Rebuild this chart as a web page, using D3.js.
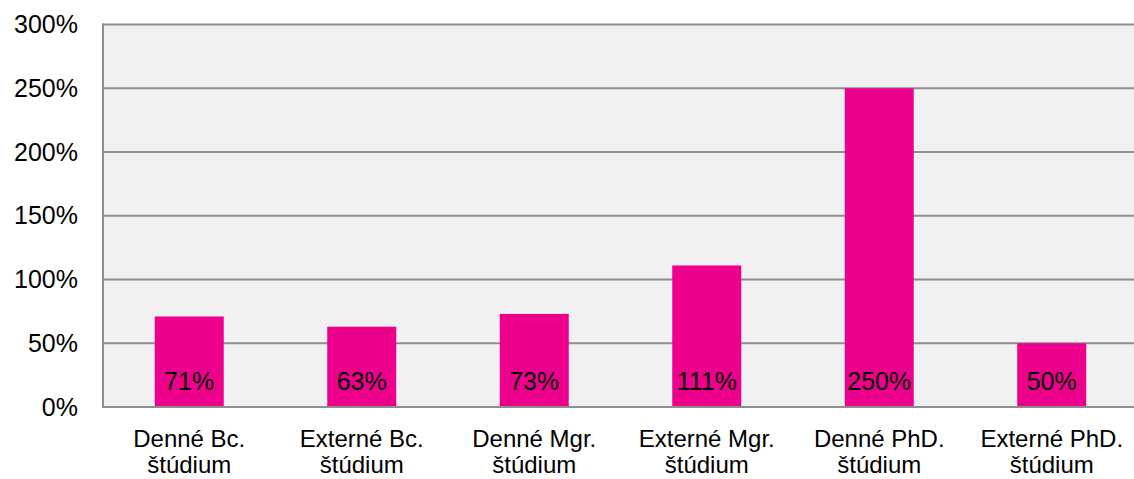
<!DOCTYPE html>
<html>
<head>
<meta charset="utf-8">
<script src="https://cdn.jsdelivr.net/npm/d3@7"></script>
<style>
  body { margin: 0; background: #fff; }
  text { font-family: "Liberation Sans", Arial, sans-serif; fill: #000; }
</style>
</head>
<body>
<svg id="chart"></svg>
<script>
// DATA
const categories = [
  ["Denné Bc.", "štúdium"],
  ["Externé Bc.", "štúdium"],
  ["Denné Mgr.", "štúdium"],
  ["Externé Mgr.", "štúdium"],
  ["Denné PhD.", "štúdium"],
  ["Externé PhD.", "štúdium"]
];
const values = [71, 63, 73, 111, 250, 50];
const yTicks = [0, 50, 100, 150, 200, 250, 300];

// SIZES
const width = 1134, height = 479;
const plot = {left: 103, top: 24.5, right: 1138, bottom: 407};

const svg = d3.select('#chart')
  .attr('width', width)
  .attr('height', height);

const x = d3.scaleBand()
  .domain(d3.range(categories.length))
  .range([plot.left, plot.right])
  .paddingInner(0.6)
  .paddingOuter(0.3);

const y = d3.scaleLinear()
  .domain([0, 300])
  .range([plot.bottom, plot.top]);

// background
svg.append('rect')
  .attr('x', plot.left)
  .attr('y', plot.top)
  .attr('width', plot.right - plot.left)
  .attr('height', plot.bottom - plot.top)
  .attr('fill', '#f1f1f1');

// gridlines
svg.append('g')
  .selectAll('line')
  .data(yTicks)
  .enter()
  .append('line')
    .attr('x1', plot.left)
    .attr('x2', plot.right)
    .attr('y1', d => y(d))
    .attr('y2', d => y(d))
    .attr('stroke', '#8e8e8e')
    .attr('stroke-width', 2);

// left axis line
svg.append('line')
  .attr('x1', plot.left).attr('x2', plot.left)
  .attr('y1', plot.top - 1).attr('y2', plot.bottom + 1)
  .attr('stroke', '#8e8e8e')
  .attr('stroke-width', 2);

// y axis labels
const yAxis = d3.axisLeft(y)
  .tickValues(yTicks)
  .tickFormat(d => d + '%')
  .tickSize(0)
  .tickPadding(25);
const yG = svg.append('g')
  .attr('transform', `translate(${plot.left},0)`)
  .call(yAxis);
yG.select('.domain').remove();
yG.selectAll('text')
  .style('font-size', '25px')
  .style('font-family', '"Liberation Sans", Arial, sans-serif')
  .attr('fill', '#000');

// bars
svg.append('g')
  .selectAll('rect')
  .data(values)
  .enter()
  .append('rect')
    .attr('x', (d, i) => x(i))
    .attr('y', d => y(d))
    .attr('width', x.bandwidth())
    .attr('height', d => y(0) - y(d) - 1)
    .attr('fill', '#ec008c');

// value labels
svg.append('g')
  .selectAll('text')
  .data(values)
  .enter()
  .append('text')
    .attr('x', (d, i) => x(i) + x.bandwidth() / 2)
    .attr('y', plot.bottom - 17)
    .attr('text-anchor', 'middle')
    .style('font-size', '25px')
    .text(d => d + '%');

// category labels
const catG = svg.append('g')
  .selectAll('text')
  .data(categories)
  .enter()
  .append('text')
    .attr('text-anchor', 'middle')
    .style('font-size', '24px')
    .attr('x', (d, i) => x(i) + x.bandwidth() / 2)
    .attr('y', 447);
catG.selectAll('tspan')
  .data(d => d)
  .enter()
  .append('tspan')
    .attr('x', function() { return d3.select(this.parentNode).attr('x'); })
    .attr('dy', (d, i) => i === 0 ? 0 : 26)
    .text(d => d);
</script>
</body>
</html>
